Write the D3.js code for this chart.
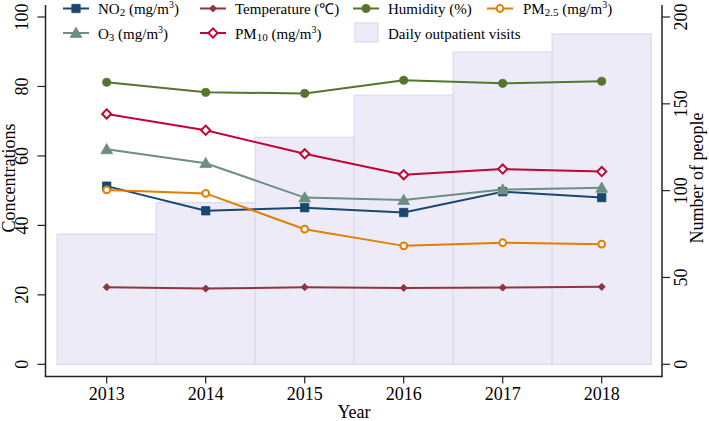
<!DOCTYPE html>
<html>
<head>
<meta charset="utf-8">
<script src="https://cdn.jsdelivr.net/npm/d3@7"></script>
<style>
  body { margin: 0; background: #fff; }
  svg text { font-family: "Liberation Serif", "Times New Roman", serif; fill: #000; }
</style>
</head>
<body>
<svg id="chart"></svg>
<script>
const width = 709;
const height = 421;

// data
const years = [2013, 2014, 2015, 2016, 2017, 2018];
const no2 = [51.3, 44.2, 45.1, 43.7, 49.7, 48.0];
const temperature = [22.2, 21.8, 22.2, 22.0, 22.1, 22.3];
const humidity = [81.2, 78.3, 78.0, 81.8, 80.9, 81.5];
const pm25 = [50.2, 49.2, 38.9, 34.1, 35.0, 34.6];
const o3 = [61.9, 57.9, 48.0, 47.3, 50.3, 50.8];
const pm10 = [72.1, 67.4, 60.6, 54.6, 56.2, 55.5];
const visits = [75.0, 93.1, 130.7, 155.0, 179.8, 190.2];

const leftTicks = [0, 20, 40, 60, 80, 100];
const rightTicks = [0, 50, 100, 150, 200];

const svg = d3.select("#chart").attr("width", width).attr("height", height);

const x = d3.scaleLinear().domain([2012.5, 2018.5]).range([57.2, 651.2]);
const yL = d3.scaleLinear().domain([0, 100]).range([364.3, 17]);
const yR = d3.scaleLinear().domain([0, 200]).range([364.3, 17]);

const plotLeft = 45.5, plotRight = 662, plotTop = 5, plotBottom = 376.5;

// bars: daily outpatient visits
svg.append("g").selectAll("rect")
  .data(years.map((yr, i) => ({ yr, v: visits[i] })))
  .enter().append("rect")
  .attr("x", d => x(d.yr - 0.5))
  .attr("width", d => x(d.yr + 0.5) - x(d.yr - 0.5))
  .attr("y", d => yR(d.v))
  .attr("height", d => yR(0) - yR(d.v))
  .attr("fill", "#ecebf7")
  .attr("stroke", "#dddbf1")
  .attr("stroke-width", 1.3);

// marker shapes
const sq = d3.symbol().type(d3.symbolSquare);
const shapes = {
  square: () => sq.size(70)(),
  diamondSmall: () => sq.size(26)(),
  diamond: () => sq.size(42)(),
  circle: () => d3.symbol().type(d3.symbolCircle).size(52)(),
  ocircle: () => d3.symbol().type(d3.symbolCircle).size(36)(),
  triangle: () => d3.symbol().type(d3.symbolTriangle).size(60)()
};

const series = [
  { name: "no2", values: no2, color: "#1a476f", shape: "square", hollow: false },
  { name: "temp", values: temperature, color: "#90353b", shape: "diamondSmall", hollow: false },
  { name: "hum", values: humidity, color: "#55752f", shape: "circle", hollow: false },
  { name: "pm25", values: pm25, color: "#e37e00", shape: "ocircle", hollow: true },
  { name: "o3", values: o3, color: "#6e8e84", shape: "triangle", hollow: false },
  { name: "pm10", values: pm10, color: "#c10534", shape: "diamond", hollow: true }
];

const line = d3.line().x(d => x(d.yr)).y(d => yL(d.v));

function marker(g, s, cx, cy) {
  const rot = (s.shape === "diamond" || s.shape === "diamondSmall") ? " rotate(45)" : "";
  const dy = s.shape === "triangle" ? 1 : 0;
  g.append("path")
    .attr("d", shapes[s.shape]())
    .attr("transform", `translate(${cx},${cy + dy})${rot}`)
    .attr("fill", s.hollow ? "#fff" : s.color)
    .attr("stroke", s.color)
    .attr("stroke-width", s.hollow ? 2 : 0.8);
}

series.forEach(s => {
  const pts = years.map((yr, i) => ({ yr, v: s.values[i] }));
  const g = svg.append("g");
  g.append("path")
    .datum(pts)
    .attr("d", line)
    .attr("fill", "none")
    .attr("stroke", s.color)
    .attr("stroke-width", 2);
  pts.forEach(p => marker(g, s, x(p.yr), yL(p.v)));
});

// axes
const axisColor = "#222";
svg.append("line").attr("x1", plotLeft).attr("x2", plotLeft).attr("y1", plotTop).attr("y2", plotBottom)
  .attr("stroke", axisColor).attr("stroke-width", 1.5);
svg.append("line").attr("x1", plotRight).attr("x2", plotRight).attr("y1", plotTop).attr("y2", plotBottom)
  .attr("stroke", axisColor).attr("stroke-width", 1.5);
svg.append("line").attr("x1", plotLeft - 0.75).attr("x2", plotRight + 0.75).attr("y1", plotBottom).attr("y2", plotBottom)
  .attr("stroke", axisColor).attr("stroke-width", 1.5);

leftTicks.forEach(t => {
  svg.append("line").attr("x1", plotLeft - 8).attr("x2", plotLeft).attr("y1", yL(t)).attr("y2", yL(t))
    .attr("stroke", axisColor).attr("stroke-width", 1.2);
  svg.append("text").attr("transform", `translate(28,${yL(t)}) rotate(-90)`)
    .attr("text-anchor", "middle").style("font-size", "18px").text(t);
});

rightTicks.forEach(t => {
  svg.append("line").attr("x1", plotRight).attr("x2", plotRight + 8).attr("y1", yR(t)).attr("y2", yR(t))
    .attr("stroke", axisColor).attr("stroke-width", 1.2);
  svg.append("text").attr("transform", `translate(687,${yR(t)}) rotate(-90)`)
    .attr("text-anchor", "middle").style("font-size", "18px").text(t);
});

years.forEach(yr => {
  svg.append("line").attr("x1", x(yr)).attr("x2", x(yr)).attr("y1", plotBottom).attr("y2", plotBottom + 7)
    .attr("stroke", axisColor).attr("stroke-width", 1.2);
  svg.append("text").attr("x", x(yr)).attr("y", 399.5)
    .attr("text-anchor", "middle").style("font-size", "18px").text(yr);
});

svg.append("text").attr("x", 354).attr("y", 418).attr("text-anchor", "middle")
  .style("font-size", "18px").text("Year");
svg.append("text").attr("transform", "translate(15,178) rotate(-90)").attr("text-anchor", "middle")
  .style("font-size", "18px").text("Concentrations");
svg.append("text").attr("transform", "translate(703,178) rotate(-90)").attr("text-anchor", "middle")
  .style("font-size", "18px").text("Number of people");

// legend
const legendItems = [
  { s: series[0], col: 0, row: 0, parts: [["NO", ""], ["2", "sub"], [" (mg/m", ""], ["3", "sup"], [")", ""]] },
  { s: series[1], col: 1, row: 0, parts: [["Temperature (\u2103)", ""]] },
  { s: series[2], col: 2, row: 0, parts: [["Humidity (%)", ""]] },
  { s: series[3], col: 3, row: 0, parts: [["PM", ""], ["2.5", "sub"], [" (mg/m", ""], ["3", "sup"], [")", ""]] },
  { s: series[4], col: 0, row: 1, parts: [["O", ""], ["3", "sub"], [" (mg/m", ""], ["3", "sup"], [")", ""]] },
  { s: series[5], col: 1, row: 1, parts: [["PM", ""], ["10", "sub"], [" (mg/m", ""], ["3", "sup"], [")", ""]] },
  { s: null, col: 2, row: 1, parts: [["Daily outpatient visits", ""]] }
];
const symX = [63, 200, 353, 487];
const textX = [98, 235, 388, 523];
const rowMid = [8.5, 33];
const rowBase = [14, 38.5];

const legend = svg.append("g");
legendItems.forEach(it => {
  const sx = symX[it.col], my = rowMid[it.row];
  if (it.s) {
    legend.append("line").attr("x1", sx).attr("x2", sx + 26).attr("y1", my).attr("y2", my)
      .attr("stroke", it.s.color).attr("stroke-width", 2);
    marker(legend, it.s, sx + 13, my);
  } else {
    legend.append("rect").attr("x", sx + 2).attr("y", my - 10).attr("width", 23).attr("height", 19)
      .attr("fill", "#ecebf7").attr("stroke", "#dddbf1").attr("stroke-width", 1.3);
  }
  const t = legend.append("text").attr("x", textX[it.col]).attr("y", rowBase[it.row]).style("font-size", "15px");
  let prevKind = "";
  it.parts.forEach(([str, kind]) => {
    const sp = t.append("tspan").text(str);
    if (kind === "sub") sp.style("font-size", "11px").attr("dy", 2);
    else if (kind === "sup") sp.style("font-size", "10px").attr("dy", -6);
    else if (prevKind === "sub") sp.attr("dy", -2);
    else if (prevKind === "sup") sp.attr("dy", 6);
    prevKind = kind;
  });
});
</script>
</body>
</html>
